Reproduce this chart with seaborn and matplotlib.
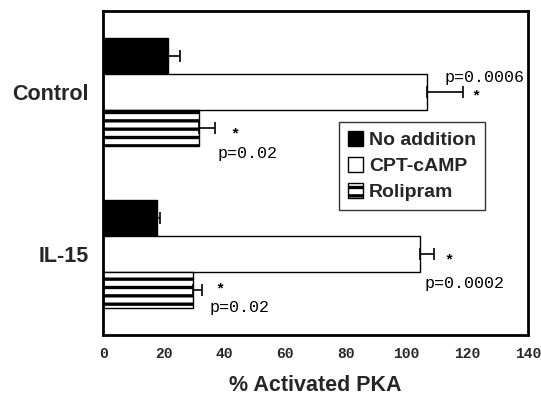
import matplotlib
matplotlib.use("Agg")
import matplotlib.pyplot as plt
import seaborn as sns
import pandas as pd
import numpy as np
from matplotlib.patches import Patch

# ---- data ----
groups = ["Control", "IL-15"]
treatments = ["No addition", "CPT-cAMP", "Rolipram"]
no_addition = [21.5, 17.7]
cpt_camp = [106.8, 104.3]
rolipram = [31.6, 29.6]
err_no_addition = [3.7, 1.2]
err_cpt_camp = [11.7, 4.7]
err_rolipram = [5.3, 3.0]
xticks = [0, 20, 40, 60, 80, 100, 120, 140]

rows = []
for t, vals in zip(treatments, [no_addition, cpt_camp, rolipram]):
    for g, v in zip(groups, vals):
        rows.append({"group": g, "treatment": t, "value": v})
df = pd.DataFrame(rows)
errs = {"No addition": err_no_addition, "CPT-cAMP": err_cpt_camp, "Rolipram": err_rolipram}

sns.set_style("white")
plt.rcParams["hatch.linewidth"] = 2.4
plt.rcParams["font.family"] = ["Liberation Sans", "DejaVu Sans"]

fig = plt.figure(figsize=(5.41, 3.97), dpi=100)
ax = fig.add_axes([103/541, 1-335/397, 425/541, 324/397])

sns.barplot(data=df, x="value", y="group", hue="treatment", orient="h",
            order=groups, hue_order=treatments,
            palette=["black", "white", "white"], edgecolor="black", linewidth=1.0,
            width=0.667, gap=0, legend=False, ax=ax, saturation=1)

for cont, t in zip(ax.containers, treatments):
    xs, ys = [], []
    for p in cont.patches:
        xs.append(p.get_width())
        ys.append(p.get_y() + p.get_height() / 2)
        if t == "Rolipram":
            p.set_hatch("--")
    e = np.array(errs[t])
    ax.errorbar(xs, ys, xerr=[np.zeros_like(e), e], fmt="none", ecolor="black",
                elinewidth=1.2, capsize=4.5, capthick=1.2)

ax.set_xlim(0, 140)
ax.set_ylim(1.5, -0.5)
ax.set_xticks(xticks)
ax.set_xticklabels([str(v) for v in xticks], fontfamily="Liberation Mono",
                   fontweight="bold", fontsize=10.5)
ax.set_yticks([0, 1])
ax.set_yticklabels(groups, fontsize=15.5, fontweight="bold")
ax.set_yticks([-0.5, 0.5, 1.5], minor=True)
ax.tick_params(axis="y", which="major", length=0, pad=10)
ax.tick_params(axis="y", which="minor", length=4, width=0.8, direction="out")
ax.tick_params(axis="x", which="major", length=3, width=0.8, direction="out", pad=6)
ax.set_xlabel("% Activated PKA", fontsize=15.5, fontweight="bold", labelpad=10)
ax.set_ylabel("")
for s in ax.spines.values():
    s.set_visible(True)
    s.set_color("black")
    s.set_linewidth(2.0)

mono = dict(fontfamily="Liberation Mono", fontsize=12, color="black")
star = dict(fontfamily="Liberation Mono", fontsize=11, fontweight="bold", color="black")
ax.text(112.5, -0.09, "p=0.0006", va="center", ha="left", **mono)
ax.text(121.5, 0.03, "*", va="center", ha="left", **star)
ax.text(42.0, 0.26, "*", va="center", ha="left", **star)
ax.text(37.6, 0.38, "p=0.02", va="center", ha="left", **mono)
ax.text(112.6, 1.04, "*", va="center", ha="left", **star)
ax.text(105.9, 1.18, "p=0.0002", va="center", ha="left", **mono)
ax.text(37.0, 1.22, "*", va="center", ha="left", **star)
ax.text(35.0, 1.33, "p=0.02", va="center", ha="left", **mono)

handles = [Patch(facecolor="black", edgecolor="black", label="No addition"),
           Patch(facecolor="white", edgecolor="black", label="CPT-cAMP"),
           Patch(facecolor="white", edgecolor="black", hatch="--", label="Rolipram")]
leg = ax.legend(handles=handles, loc="upper left", bbox_to_anchor=(0.555, 0.657),
                borderaxespad=0, frameon=True, fancybox=False, edgecolor="black",
                prop={"family": "Liberation Sans", "weight": "bold", "size": 14},
                handlelength=0.8, handleheight=0.8, handletextpad=0.3,
                labelspacing=0.4, borderpad=0.45)
leg.get_frame().set_linewidth(1.0)

fig.savefig("out.png", dpi=100)
